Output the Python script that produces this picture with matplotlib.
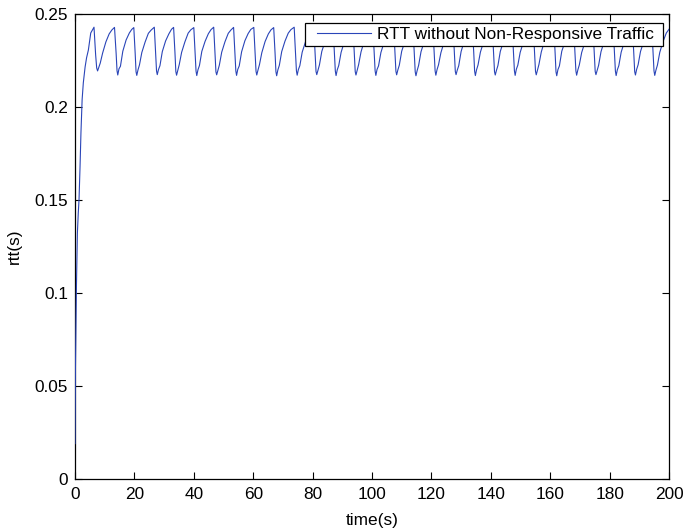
import matplotlib
matplotlib.use("Agg")
import matplotlib.pyplot as plt
from matplotlib.patches import Rectangle

plt.rcParams['font.family'] = ['Liberation Sans', 'DejaVu Sans']

# start-up ramp of the round-trip time (s)
ramp_time = [0.0, 0.05, 0.15, 0.3, 0.5, 0.8, 1.1, 1.35, 1.7, 2.0, 2.4, 2.8, 3.4,
             3.9, 4.5, 5.3, 5.9, 6.4, 6.95, 7.3]
ramp_rtt = [0.019, 0.035, 0.060, 0.078, 0.105, 0.132, 0.143, 0.150, 0.168, 0.186,
            0.204, 0.213, 0.2215, 0.2265, 0.2306, 0.2398, 0.2415, 0.2429, 0.2280,
            0.2210]

# steady-state oscillation, one queue cycle per row
cycle_time = [
    7.6, 8.0, 8.5, 9.3, 10.4, 11.5, 12.4, 13.3, 13.85, 14.15,
    14.4, 14.8, 15.3, 16.1, 17.2, 18.3, 19.1, 19.8, 20.25, 20.55,
    20.8, 21.2, 21.7, 22.5, 23.6, 24.7, 25.6, 26.7, 27.15, 27.45,
    27.7, 28.1, 28.6, 29.4, 30.5, 31.6, 32.5, 33.2, 33.65, 33.95,
    34.2, 34.6, 35.1, 35.9, 37.0, 38.1, 39.0, 40.0, 40.45, 40.75,
    41.0, 41.4, 41.9, 42.7, 43.8, 44.9, 45.8, 46.7, 47.15, 47.45,
    47.7, 48.1, 48.6, 49.4, 50.5, 51.6, 52.5, 53.4, 53.85, 54.15,
    54.4, 54.8, 55.3, 56.1, 57.2, 58.3, 59.2, 60.2, 60.65, 60.95,
    61.2, 61.6, 62.1, 62.9, 64.0, 65.1, 66.0, 66.9, 67.35, 67.65,
    67.9, 68.3, 68.8, 69.6, 70.7, 71.8, 72.7, 73.8, 74.25, 74.55,
    74.8, 75.2, 75.7, 76.5, 77.6, 78.7, 79.6, 80.4, 80.85, 81.15,
    81.4, 81.8, 82.3, 83.1, 84.2, 85.3, 86.2, 86.9, 87.35, 87.65,
    87.9, 88.3, 88.8, 89.6, 90.7, 91.8, 92.7, 93.6, 94.05, 94.35,
    94.6, 95.0, 95.5, 96.3, 97.4, 98.5, 99.4, 100.3, 100.75, 101.05,
    101.3, 101.7, 102.2, 103.0, 104.1, 105.2, 106.1, 107.3, 107.75, 108.05,
    108.3, 108.7, 109.2, 110.0, 111.1, 112.2, 113.1, 113.8, 114.25, 114.55,
    114.8, 115.2, 115.7, 116.5, 117.6, 118.7, 119.6, 120.5, 120.95, 121.25,
    121.5, 121.9, 122.4, 123.2, 124.3, 125.4, 126.3, 127.3, 127.75, 128.05,
    128.3, 128.7, 129.2, 130.0, 131.1, 132.2, 133.1, 133.8, 134.25, 134.55,
    134.8, 135.2, 135.7, 136.5, 137.6, 138.7, 139.6, 140.5, 140.95, 141.25,
    141.5, 141.9, 142.4, 143.2, 144.3, 145.4, 146.3, 147.2, 147.65, 147.95,
    148.2, 148.6, 149.1, 149.9, 151.0, 152.1, 153.0, 154.3, 154.75, 155.05,
    155.3, 155.7, 156.2, 157.0, 158.1, 159.2, 160.1, 161.2, 161.65, 161.95,
    162.2, 162.6, 163.1, 163.9, 165.0, 166.1, 167.0, 167.9, 168.35, 168.65,
    168.9, 169.3, 169.8, 170.6, 171.7, 172.8, 173.7, 174.4, 174.85, 175.15,
    175.4, 175.8, 176.3, 177.1, 178.2, 179.3, 180.2, 181.2, 181.65, 181.95,
    182.2, 182.6, 183.1, 183.9, 185.0, 186.1, 187.0, 187.7, 188.15, 188.45,
    188.7, 189.1, 189.6, 190.4, 191.5, 192.6, 193.5, 194.2, 194.65, 194.95,
    195.2, 195.6, 196.1, 196.9, 198.0, 199.1, 200.0,
]
cycle_rtt = [
    0.2194, 0.2212, 0.2236, 0.2290, 0.2350, 0.2393, 0.2414, 0.2428, 0.2288, 0.2195,
    0.2172, 0.2205, 0.2219, 0.2300, 0.2360, 0.2398, 0.2417, 0.2427, 0.2292, 0.2190,
    0.2170, 0.2199, 0.2226, 0.2293, 0.2349, 0.2396, 0.2413, 0.2429, 0.2285, 0.2194,
    0.2174, 0.2201, 0.2222, 0.2298, 0.2355, 0.2393, 0.2418, 0.2428, 0.2294, 0.2191,
    0.2171, 0.2196, 0.2228, 0.2294, 0.2350, 0.2397, 0.2415, 0.2427, 0.2289, 0.2193,
    0.2169, 0.2200, 0.2223, 0.2299, 0.2353, 0.2394, 0.2416, 0.2429, 0.2286, 0.2189,
    0.2173, 0.2197, 0.2225, 0.2295, 0.2351, 0.2396, 0.2414, 0.2428, 0.2291, 0.2194,
    0.2170, 0.2202, 0.2221, 0.2297, 0.2356, 0.2395, 0.2417, 0.2428, 0.2287, 0.2192,
    0.2172, 0.2198, 0.2227, 0.2292, 0.2352, 0.2393, 0.2415, 0.2427, 0.2293, 0.2190,
    0.2168, 0.2199, 0.2224, 0.2298, 0.2354, 0.2397, 0.2416, 0.2429, 0.2288, 0.2195,
    0.2171, 0.2201, 0.2222, 0.2295, 0.2350, 0.2394, 0.2414, 0.2428, 0.2284, 0.2191,
    0.2174, 0.2197, 0.2226, 0.2299, 0.2353, 0.2396, 0.2418, 0.2427, 0.2292, 0.2193,
    0.2169, 0.2200, 0.2223, 0.2294, 0.2351, 0.2395, 0.2415, 0.2428, 0.2289, 0.2190,
    0.2172, 0.2198, 0.2228, 0.2296, 0.2355, 0.2393, 0.2416, 0.2429, 0.2286, 0.2194,
    0.2170, 0.2202, 0.2221, 0.2293, 0.2349, 0.2397, 0.2414, 0.2428, 0.2293, 0.2192,
    0.2173, 0.2199, 0.2225, 0.2300, 0.2354, 0.2394, 0.2417, 0.2427, 0.2287, 0.2189,
    0.2168, 0.2196, 0.2224, 0.2297, 0.2352, 0.2396, 0.2415, 0.2428, 0.2290, 0.2194,
    0.2171, 0.2201, 0.2227, 0.2292, 0.2350, 0.2395, 0.2416, 0.2429, 0.2285, 0.2191,
    0.2174, 0.2198, 0.2222, 0.2298, 0.2356, 0.2393, 0.2414, 0.2428, 0.2294, 0.2193,
    0.2169, 0.2200, 0.2226, 0.2295, 0.2351, 0.2397, 0.2418, 0.2427, 0.2288, 0.2190,
    0.2172, 0.2197, 0.2223, 0.2299, 0.2353, 0.2394, 0.2415, 0.2428, 0.2291, 0.2195,
    0.2170, 0.2203, 0.2225, 0.2294, 0.2350, 0.2396, 0.2416, 0.2429, 0.2286, 0.2192,
    0.2173, 0.2198, 0.2228, 0.2296, 0.2355, 0.2395, 0.2414, 0.2428, 0.2292, 0.2189,
    0.2168, 0.2201, 0.2221, 0.2300, 0.2352, 0.2393, 0.2417, 0.2427, 0.2289, 0.2194,
    0.2171, 0.2199, 0.2226, 0.2293, 0.2349, 0.2397, 0.2415, 0.2428, 0.2287, 0.2191,
    0.2174, 0.2196, 0.2224, 0.2297, 0.2354, 0.2394, 0.2416, 0.2429, 0.2293, 0.2193,
    0.2169, 0.2200, 0.2222, 0.2295, 0.2351, 0.2396, 0.2414, 0.2428, 0.2288, 0.2190,
    0.2172, 0.2202, 0.2227, 0.2298, 0.2353, 0.2395, 0.2417, 0.2428, 0.2290, 0.2194,
    0.2170, 0.2198, 0.2225, 0.2294, 0.2352, 0.2398, 0.2418,
]

time_s = ramp_time + cycle_time
rtt_s = ramp_rtt + cycle_rtt

x_ticks = [0, 20, 40, 60, 80, 100, 120, 140, 160, 180, 200]
y_ticks = [0, 0.05, 0.1, 0.15, 0.2, 0.25]
y_tick_labels = ['0', '0.05', '0.1', '0.15', '0.2', '0.25']
series_label = 'RTT without Non-Responsive Traffic'

fs = 12.4

fig = plt.figure(figsize=(6.86, 5.32), dpi=100)
ax = fig.add_axes([75 / 686, 53 / 532, 594 / 686, 465 / 532])

ax.plot(time_s, rtt_s, color='#2a45b8', linewidth=0.8, label=series_label,
        zorder=3)

ax.set_xlim(0, 200)
ax.set_ylim(0, 0.25)
ax.set_xticks(x_ticks)
ax.set_xticklabels([str(v) for v in x_ticks])
ax.set_yticks(y_ticks)
ax.set_yticklabels(y_tick_labels)
ax.tick_params(direction='in', length=5, width=0.8, top=True, right=True,
               labelsize=fs, colors='black')
ax.tick_params(axis='x', pad=5.5)
ax.tick_params(axis='y', pad=5)
for spine in ax.spines.values():
    spine.set_linewidth(0.9)
    spine.set_color('black')
    spine.set_zorder(2.5)

ax.set_xlabel('time(s)', fontsize=fs, labelpad=8)
ax.set_ylabel('rtt(s)', fontsize=fs, labelpad=9)

# legend box (MATLAB-style: wide side margins, tight top/bottom)
box = Rectangle((0.3872, 0.9318), 0.6027, 0.0482, transform=ax.transAxes,
                facecolor='white', edgecolor='black', linewidth=0.9,
                zorder=4, clip_on=False)
ax.add_patch(box)
leg = ax.legend(loc='center left', bbox_to_anchor=(0.4069, 0.9559), fontsize=fs,
                frameon=False, borderpad=0.0, handlelength=3.14,
                handletextpad=0.38, borderaxespad=0.0)
leg.set_zorder(5)

fig.savefig('out.png', dpi=100)
